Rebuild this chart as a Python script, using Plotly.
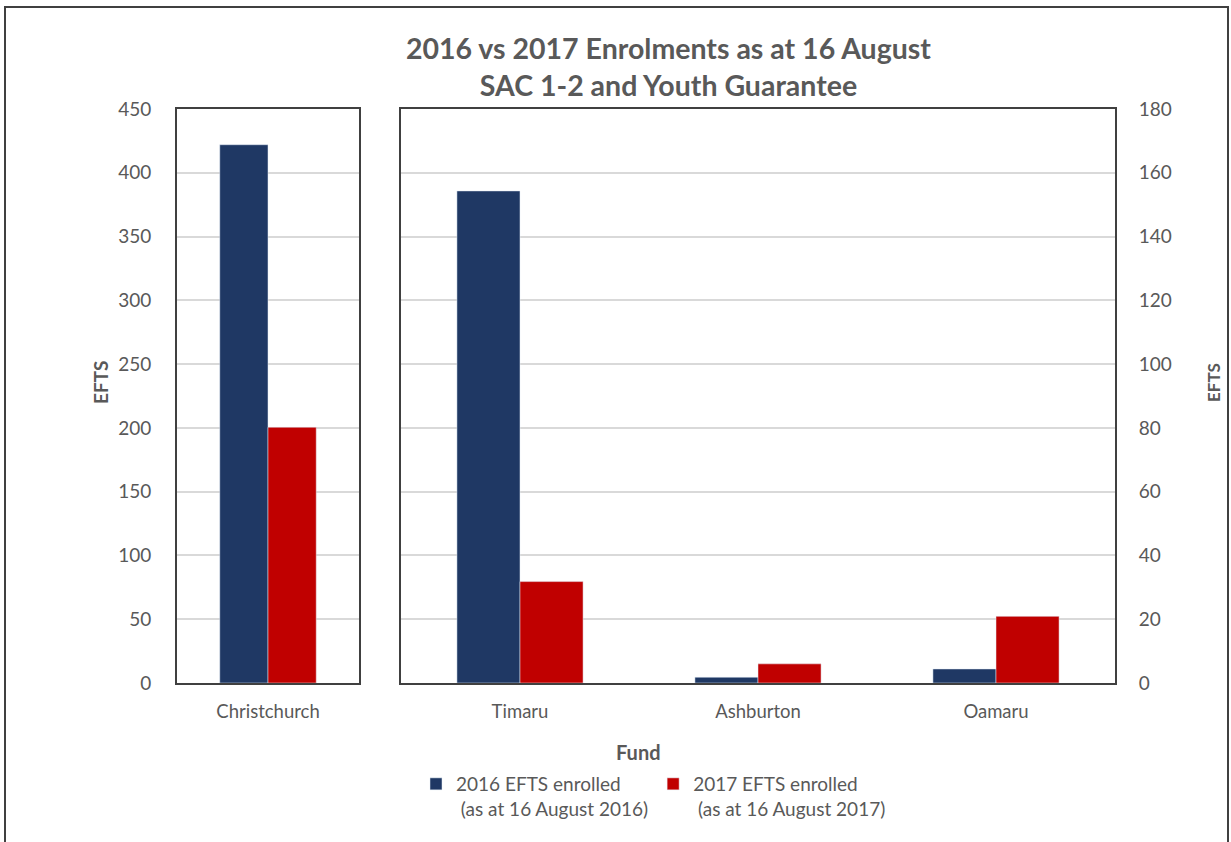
import plotly.graph_objects as go

W, H = 1231, 842

# ---- data ----
main_categories = ["Christchurch"]
regional_categories = ["Timaru", "Ashburton", "Oamaru"]
efts_2016_main = [422.0]
efts_2017_main = [200.5]
efts_2016_regional = [154.3, 1.8, 4.4]
efts_2017_regional = [31.8, 6.0, 20.9]
series_names = ["2016 EFTS enrolled<br> (as at 16 August 2016)",
                "2017 EFTS enrolled<br> (as at 16 August 2017)"]
left_ticks = list(range(0, 451, 50))
right_ticks = list(range(0, 181, 20))

C2016 = "#1f3864"
C2017 = "#c00000"
TXT = "#595959"
FONT = "Lato, Open Sans, sans-serif"


def px_x(x):
    return x / W


def px_y(y):
    return 1 - y / H


fig = go.Figure()
fig.add_trace(go.Bar(x=main_categories, y=efts_2016_main, name=series_names[0],
                     marker_color=C2016, legendgroup="a", xaxis="x", yaxis="y"))
fig.add_trace(go.Bar(x=main_categories, y=efts_2017_main, name=series_names[1],
                     marker_color=C2017, legendgroup="b", xaxis="x", yaxis="y"))
fig.add_trace(go.Bar(x=regional_categories, y=efts_2016_regional, name=series_names[0],
                     marker_color=C2016, legendgroup="a", showlegend=False,
                     xaxis="x2", yaxis="y2"))
fig.add_trace(go.Bar(x=regional_categories, y=efts_2017_regional, name=series_names[1],
                     marker_color=C2017, legendgroup="b", showlegend=False,
                     xaxis="x2", yaxis="y2"))

ydom = [px_y(683), px_y(109)]
axis_common = dict(showline=True, linecolor="#404040", linewidth=2, mirror=True,
                   automargin=False,
                   tickfont=dict(family=FONT, size=18.5, color=TXT))
yaxis_common = dict(showgrid=True, gridcolor="#d9d9d9", gridwidth=1.5,
                    showline=True, linecolor="#404040", linewidth=2, mirror=True,
                    tickfont=dict(family=FONT, size=19, color=TXT),
                    zeroline=False, automargin=False)

fig.update_layout(
    width=W, height=H,
    margin=dict(l=0, r=0, t=0, b=0, autoexpand=False),
    paper_bgcolor="white", plot_bgcolor="white",
    barmode="group", bargap=0.47, bargroupgap=0,
    font=dict(family=FONT, color=TXT),
    xaxis=dict(domain=[px_x(177), px_x(359)], anchor="y", ticklabelstandoff=11,
               **axis_common),
    yaxis=dict(domain=ydom, anchor="x", range=[0, 450], tickvals=left_ticks,
               ticklabelstandoff=20, **yaxis_common),
    xaxis2=dict(domain=[px_x(401), px_x(1115)], anchor="y2", ticklabelstandoff=11,
                **axis_common),
    yaxis2=dict(domain=ydom, anchor="x2", side="right", range=[0, 180], tickvals=right_ticks,
                ticklabelstandoff=18, **yaxis_common),
    legend=dict(orientation="h", x=px_x(416), xanchor="left", y=px_y(765), yanchor="top",
                valign="top",
                font=dict(family=FONT, size=19, color=TXT),
                traceorder="normal", bgcolor="rgba(0,0,0,0)"),
    annotations=[
        dict(text="<b>2016 vs 2017 Enrolments as at 16 August<br>SAC 1-2 and Youth Guarantee</b>",
             x=px_x(668), y=px_y(66), xref="paper", yref="paper", showarrow=False,
             xanchor="center", yanchor="middle", align="center",
             font=dict(family=FONT, size=28.5, color=TXT)),
        dict(text="<b>Fund</b>", x=px_x(638), y=px_y(752), xref="paper", yref="paper",
             showarrow=False, xanchor="center", yanchor="middle",
             font=dict(family=FONT, size=20, color=TXT)),
        dict(text="<b>EFTS</b>", x=px_x(100), y=px_y(383), xref="paper", yref="paper",
             showarrow=False, xanchor="center", yanchor="middle", textangle=-90,
             font=dict(family=FONT, size=19, color=TXT)),
        dict(text="<b>EFTS</b>", x=px_x(1213), y=px_y(383), xref="paper", yref="paper",
             showarrow=False, xanchor="center", yanchor="middle", textangle=-90,
             font=dict(family=FONT, size=17, color=TXT)),
    ],
    shapes=[dict(type="rect", xref="paper", yref="paper",
                 x0=px_x(5), x1=px_x(1228), y0=-0.05, y1=px_y(7),
                 line=dict(color="#404040", width=2))],
)

fig.write_html("out.html")
